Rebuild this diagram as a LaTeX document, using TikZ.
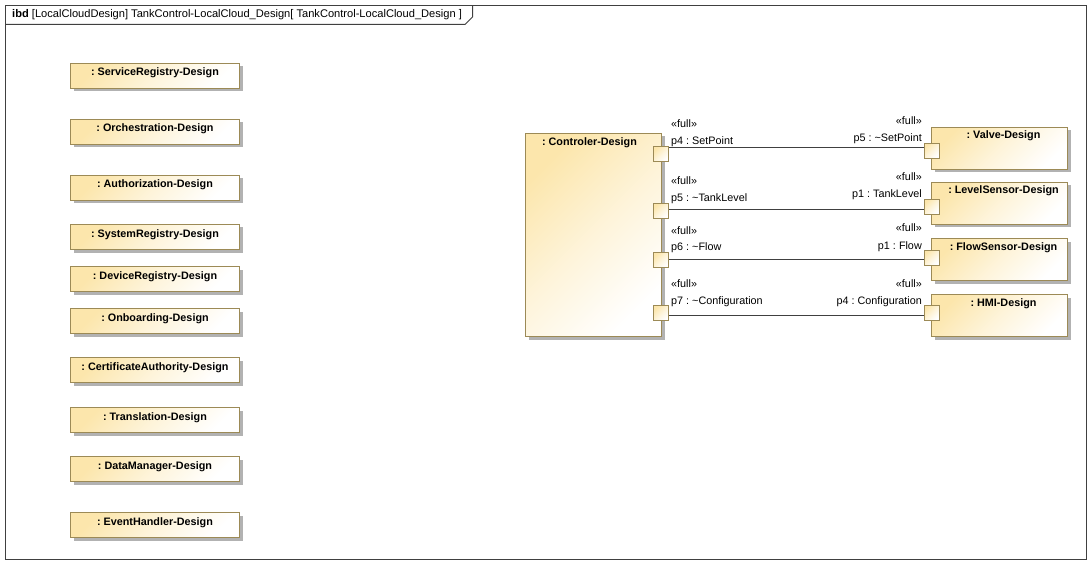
\documentclass[tikz,border=0pt]{standalone}
\usepackage{fontspec}
\setmainfont{Liberation Sans}
\usetikzlibrary{shadows}
\frenchspacing
\definecolor{partfill}{HTML}{FCE6AC}
\definecolor{partedge}{HTML}{9C8A56}
\definecolor{shadowgray}{HTML}{B2B2B2}
\definecolor{framegray}{HTML}{404040}
\begin{document}
\begin{tikzpicture}[x=1pt,y=-1pt,
  every node/.style={font=\fontsize{10.8}{13}\selectfont},
  partshade/.style={draw=partedge, line width=1pt,
    left color=partfill, right color=white, middle color=partfill!45!white, shading angle=45},
  part/.style={partshade, rectangle, inner sep=0pt, anchor=north west,
    drop shadow={opacity=1, fill=shadowgray, shadow xshift=3pt, shadow yshift=-3pt}},
  sidepart/.style={part, minimum width=169pt, minimum height=25pt},
  bigpart/.style={part, minimum width=136pt, minimum height=42pt},
  port/.style={partshade, rectangle, inner sep=0pt, anchor=north,
    minimum width=15pt, minimum height=15pt},
  partname/.style={font=\fontsize{10.8}{13}\selectfont\bfseries, inner sep=0pt, anchor=base},
  portname/.style={inner sep=0pt},
  conn/.style={draw=framegray, line width=1pt},
]
\useasboundingbox (0,0) rectangle (1092,564);

% diagram frame and header tab
\draw[framegray, line width=1pt] (5.5,5.5) rectangle (1086.5,559.5);
\draw[framegray, line width=1pt] (5.5,24.5) -- (465,24.5) -- (472.5,17) -- (472.5,5.5);
\node[inner sep=0pt, anchor=base west, font=\fontsize{11.1}{13}\selectfont] (title) at (12,18)
  {\textbf{ibd} [LocalCloudDesign] TankControl-LocalCloud\_Design[ TankControl-LocalCloud\_Design ]};

% core system parts
\foreach \n/\t/\y in {sr/ServiceRegistry/63, orch/Orchestration/119, auth/Authorization/175,
  sysreg/SystemRegistry/224, devreg/DeviceRegistry/266, onb/Onboarding/308,
  ca/CertificateAuthority/357, tr/Translation/407, dm/DataManager/456, eh/EventHandler/512}{
  \node[sidepart] (\n) at (70,\y) {};
  \node[partname] (\n-name) at ([yshift=-13pt]\n.north) {: \t-Design};
}

% controller
\node[part, minimum width=136pt, minimum height=203pt] (ctrl) at (525,133) {};
\node[partname] (ctrl-name) at ([xshift=-4pt, yshift=-13pt]ctrl.north) {: Controler-Design};

% devices
\node[bigpart] (valve) at (931,127) {};
\node[bigpart] (level) at (931,182) {};
\node[bigpart] (flow)  at (931,238) {};
\node[bigpart] (hmi)   at (931,294) {};
\foreach \n/\t in {valve/Valve, level/LevelSensor, flow/FlowSensor, hmi/HMI}{
  \node[partname] (\n-name) at ([xshift=4pt, yshift=-12pt]\n.north) {: \t-Design};
}

% ports on the controller
\node[port] (cp1) at (661,146) {};
\node[port] (cp2) at (661,203) {};
\node[port] (cp3) at (661,252) {};
\node[port] (cp4) at (661,305) {};
% ports on the devices
\node[port] (vp) at (931.5,143) {};
\node[port] (lp) at (931.5,199) {};
\node[port] (fp) at (931.5,250) {};
\node[port] (hp) at (931.5,305) {};

% port labels
\foreach \p/\y/\t in {cp1/145/p4 : SetPoint, cp2/202/p5 : \textasciitilde TankLevel,
  cp3/251/p6 : \textasciitilde Flow, cp4/304/p7 : \textasciitilde Configuration}{
  \node[portname, anchor=base west] (\p-lbl) at (671,\y) {\t};
  \node[portname, anchor=base west] (\p-st) at (671,\y-17) {«full»};
}
\foreach \p/\y/\t in {vp/142/p5 : \textasciitilde SetPoint, lp/198/p1 : TankLevel,
  fp/249/p1 : Flow, hp/304/p4 : Configuration}{
  \node[portname, anchor=base east] (\p-lbl) at (922,\y) {\t};
  \node[portname, anchor=base east] (\p-st) at (922,\y-17) {«full»};
}

% connectors
\coordinate (l1) at (0,148);
\coordinate (l2) at (0,210);
\coordinate (l3) at (0,259);
\coordinate (l4) at (0,315);
\draw[conn] (cp1.east |- l1) -- (vp.west |- l1);
\draw[conn] (cp2.east |- l2) -- (lp.west |- l2);
\draw[conn] (cp3.east |- l3) -- (fp.west |- l3);
\draw[conn] (cp4.east |- l4) -- (hp.west |- l4);
\end{tikzpicture}
\end{document}
